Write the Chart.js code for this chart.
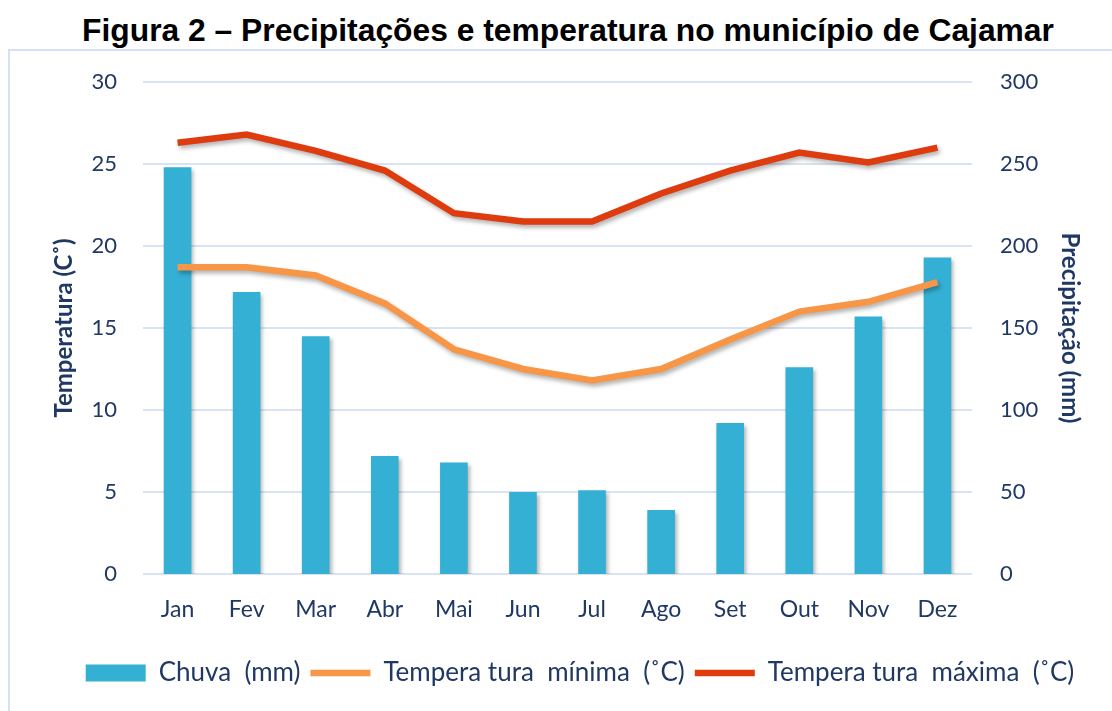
<!DOCTYPE html>
<html>
<head>
<meta charset="utf-8">
<script src="https://cdn.jsdelivr.net/npm/chart.js@4"></script>
<style>
    body { margin: 0; background: #fff; }
    #wrap { position: relative; width: 1112px; height: 711px; overflow: hidden; }
    #frame { position: absolute; left: 8px; top: 49px; width: 1120px; height: 700px; border: 2px solid #d6e2f3; }
    #title { position: absolute; left: 0; top: 12px; width: 1136px; text-align: center; font: bold 31.8px "Liberation Sans", Arial, sans-serif; color: #000; }
    #myChart { position: absolute; left: 0; top: 0; }
</style>
</head>
<body>
<div id="wrap">
    <div id="frame"></div>
    <div id="title">Figura 2 – Precipitações e temperatura no município de Cajamar</div>
    <canvas id="myChart" width="1112" height="711"></canvas>
</div>
<script>
const months = ['Jan', 'Fev', 'Mar', 'Abr', 'Mai', 'Jun', 'Jul', 'Ago', 'Set', 'Out', 'Nov', 'Dez'];
const chuva = [248, 172, 145, 72, 68, 50, 51, 39, 92, 126, 157, 193];
const tempMin = [18.7, 18.7, 18.2, 16.5, 13.7, 12.5, 11.8, 12.5, 14.3, 16.0, 16.6, 17.8];
const tempMax = [26.3, 26.8, 25.8, 24.6, 22.0, 21.5, 21.5, 23.2, 24.6, 25.7, 25.1, 26.0];

const textColor = '#203864';
const gridColor = '#d9e3f3';
const font = 'Lato, "Open Sans", sans-serif';

// soft shadow under the bars and lines
const shadowPlugin = {
    id: 'shadow',
    beforeDatasetDraw(chart) {
        const c = chart.ctx;
        c.save();
        c.shadowColor = 'rgba(0, 0, 0, 0.3)';
        c.shadowBlur = 4;
        c.shadowOffsetX = 2;
        c.shadowOffsetY = 3;
    },
    afterDatasetDraw(chart) {
        chart.ctx.restore();
    }
};

const ctx = document.getElementById('myChart');
const myChart = new Chart(ctx, { // eslint-disable-line
    type: 'bar',
    data: {
        labels: months,
        datasets: [{
            type: 'bar',
            label: 'Chuva  (mm)',
            data: chuva,
            yAxisID: 'y1',
            backgroundColor: '#34b0d4',
            barPercentage: 0.4,
            categoryPercentage: 1,
            pointStyle: 'rect',
            order: 2
        }, {
            type: 'line',
            label: 'Tempera tura  mínima  (˚C)',
            data: tempMin,
            yAxisID: 'y',
            borderColor: '#f79646',
            backgroundColor: '#f79646',
            borderWidth: 6.5,
            pointRadius: 0,
            pointStyle: 'line',
            order: 1
        }, {
            type: 'line',
            label: 'Tempera tura  máxima  (˚C)',
            data: tempMax,
            yAxisID: 'y',
            borderColor: '#de3b0f',
            backgroundColor: '#de3b0f',
            borderWidth: 6.5,
            pointRadius: 0,
            pointStyle: 'line',
            order: 1
        }]
    },
    options: {
        responsive: false,
        animation: false,
        layout: {
            padding: { top: 82, bottom: 15, left: 48, right: 0 }
        },
        plugins: {
            tooltip: { enabled: false },
            legend: {
                position: 'bottom',
                labels: {
                    usePointStyle: true,
                    pointStyleWidth: 60,
                    boxHeight: 17,
                    color: textColor,
                    font: { family: font, size: 26 },
                    padding: 10,
                    sort: (a, b) => a.datasetIndex - b.datasetIndex
                }
            }
        },
        scales: {
            x: {
                grid: { display: false },
                border: { display: false },
                ticks: { color: textColor, font: { family: font, size: 23 }, padding: 14 },
                afterFit(scale) { scale.height = 76; }
            },
            y: {
                position: 'left',
                min: 0,
                max: 30,
                ticks: { stepSize: 5, color: textColor, font: { family: font, size: 22 }, padding: 26 },
                grid: { color: gridColor, lineWidth: 2, drawTicks: false },
                border: { display: false },
                title: {
                    display: true,
                    text: 'Temperatura (C˚)',
                    color: textColor,
                    font: { family: font, size: 24, weight: 'bold' },
                    padding: { top: 2, bottom: 0 }
                },
                afterFit(scale) { scale.width = 95; }
            },
            y1: {
                position: 'right',
                min: 0,
                max: 300,
                ticks: { stepSize: 50, color: textColor, font: { family: font, size: 22 }, padding: 28 },
                grid: { display: false, drawTicks: false },
                border: { display: false },
                title: {
                    display: true,
                    text: 'Precipitação (mm)',
                    color: textColor,
                    font: { family: font, size: 24, weight: 'bold' },
                    padding: { top: 28, bottom: 0 }
                },
                afterFit(scale) { scale.width = 140; }
            }
        }
    },
    plugins: [shadowPlugin]
});
</script>
</body>
</html>
